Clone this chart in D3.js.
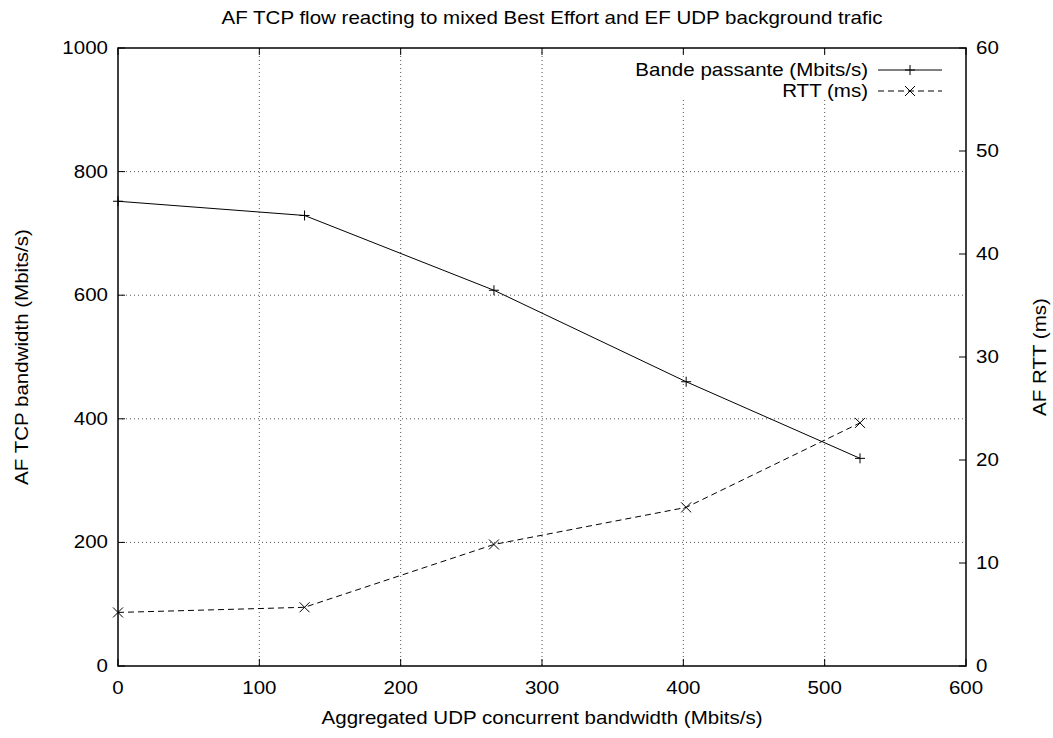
<!DOCTYPE html>
<html>
<head>
<meta charset="utf-8">
<script src="https://cdn.jsdelivr.net/npm/d3@7"></script>
<style>
  body { margin: 0; background: #fff; }
  svg text { font-family: "Liberation Sans", Arial, sans-serif; font-size: 18px; fill: #000; }
</style>
</head>
<body>
<svg id="chart" width="1053" height="738"></svg>
<script>
// data
var udp = [0, 132, 266, 402, 525];
var bandwidth = [752, 729, 608, 460, 336];
var rtt = [5.2, 5.7, 11.8, 15.4, 23.6];
var xTicks = [0, 100, 200, 300, 400, 500, 600];
var yTicks = [0, 200, 400, 600, 800, 1000];
var y2Ticks = [0, 10, 20, 30, 40, 50, 60];

var svg = d3.select("#chart");
var pLeft = 118, pRight = 966, pTop = 48, pBottom = 666;

var x = d3.scaleLinear().domain([0, 600]).range([pLeft, pRight]);
var y = d3.scaleLinear().domain([0, 1000]).range([pBottom, pTop]);
var y2 = d3.scaleLinear().domain([0, 60]).range([pBottom, pTop]);

var g = svg.append("g");

// stretched text like the gnuplot output
function label(px, py, anchor, txt, rot) {
  var t = "translate(" + px + "," + py + ")" + (rot ? " rotate(" + rot + ")" : "") + " scale(1.14,1)";
  svg.append("g").attr("transform", t)
    .append("text").attr("text-anchor", anchor).text(txt);
}

// grid
g.selectAll(".gx").data(xTicks.slice(1, -1)).enter().append("line")
  .attr("x1", d => x(d)).attr("x2", d => x(d))
  .attr("y1", pTop).attr("y2", pBottom)
  .style("stroke", "#555").style("stroke-width", 1).style("stroke-dasharray", "1,3");
g.selectAll(".gy").data(yTicks.slice(1, -1)).enter().append("line")
  .attr("x1", pLeft).attr("x2", pRight)
  .attr("y1", d => y(d)).attr("y2", d => y(d))
  .style("stroke", "#555").style("stroke-width", 1).style("stroke-dasharray", "1,3");

// legend background (hides grid)
g.append("rect").attr("x", 600).attr("y", 56).attr("width", 360).attr("height", 44)
  .style("fill", "#fff");

// ticks (inside)
var tl = 7;
xTicks.forEach(function(d) {
  g.append("line").attr("x1", x(d)).attr("x2", x(d)).attr("y1", pBottom).attr("y2", pBottom - tl).style("stroke", "#000");
  g.append("line").attr("x1", x(d)).attr("x2", x(d)).attr("y1", pTop).attr("y2", pTop + tl).style("stroke", "#000");
  label(x(d), 694, "middle", d);
});
yTicks.forEach(function(d) {
  g.append("line").attr("x1", pLeft).attr("x2", pLeft + tl).attr("y1", y(d)).attr("y2", y(d)).style("stroke", "#000");
  label(108, y(d) + 6, "end", d);
});
y2Ticks.forEach(function(d) {
  g.append("line").attr("x1", pRight).attr("x2", pRight - tl).attr("y1", y2(d)).attr("y2", y2(d)).style("stroke", "#000");
  label(976, y2(d) + 6, "start", d);
});

// frame
g.append("rect").attr("x", pLeft).attr("y", pTop).attr("width", pRight - pLeft).attr("height", pBottom - pTop)
  .style("fill", "none").style("stroke", "#000").style("stroke-width", 1.5);

// series
var bwLine = d3.line().x((d, i) => x(udp[i])).y(d => y(d));
var rttLine = d3.line().x((d, i) => x(udp[i])).y(d => y2(d));

g.append("path").attr("d", bwLine(bandwidth))
  .style("fill", "none").style("stroke", "#000").style("stroke-width", 1);
g.append("path").attr("d", rttLine(rtt))
  .style("fill", "none").style("stroke", "#000").style("stroke-width", 1).style("stroke-dasharray", "6,4");

var m = 5;
function plus(px, py) {
  g.append("path").attr("d", "M" + (px - m) + "," + py + "H" + (px + m) + "M" + px + "," + (py - m) + "V" + (py + m))
    .style("stroke", "#000").style("stroke-width", 1);
}
function cross(px, py) {
  g.append("path").attr("d", "M" + (px - m) + "," + (py - m) + "L" + (px + m) + "," + (py + m) +
    "M" + (px - m) + "," + (py + m) + "L" + (px + m) + "," + (py - m))
    .style("stroke", "#000").style("stroke-width", 1);
}
bandwidth.forEach(function(d, i) { plus(x(udp[i]), y(d)); });
rtt.forEach(function(d, i) { cross(x(udp[i]), y2(d)); });

// legend
label(868, 76, "end", "Bande passante (Mbits/s)");
g.append("line").attr("x1", 878).attr("x2", 942).attr("y1", 70).attr("y2", 70).style("stroke", "#000");
plus(910, 70);
label(868, 97, "end", "RTT (ms)");
g.append("line").attr("x1", 878).attr("x2", 942).attr("y1", 91).attr("y2", 91)
  .style("stroke", "#000").style("stroke-dasharray", "6,4");
cross(910, 91);

// titles
label(552, 24, "middle", "AF TCP flow reacting to mixed Best Effort and EF UDP background trafic");
label(542, 724, "middle", "Aggregated UDP concurrent bandwidth (Mbits/s)");
label(28, 357, "middle", "AF TCP bandwidth (Mbits/s)", -90);
label(1046, 357, "middle", "AF RTT (ms)", -90);
</script>
</body>
</html>
